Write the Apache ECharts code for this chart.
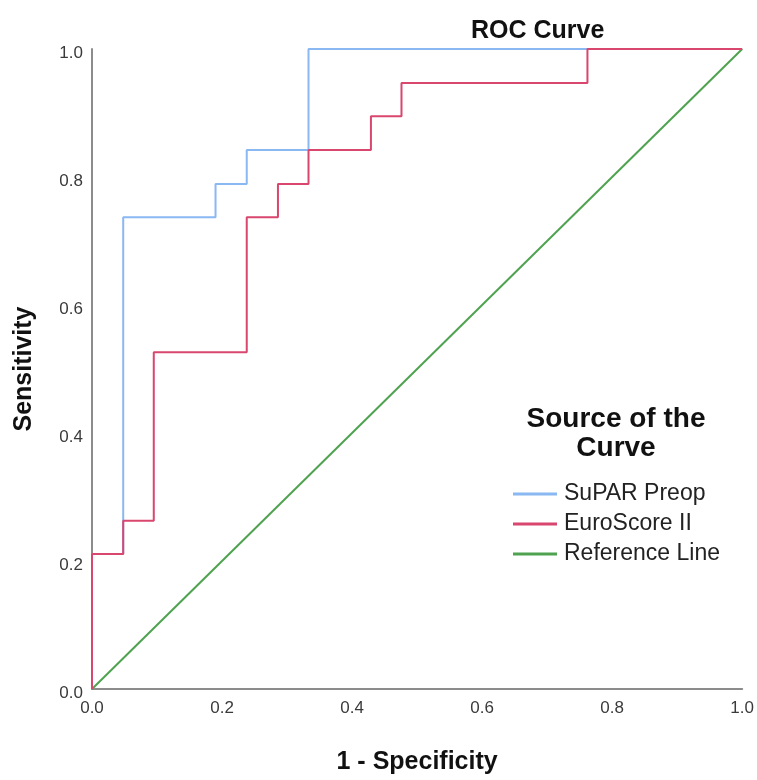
<!DOCTYPE html>
<html>
<head>
<meta charset="utf-8">
<script src="https://cdn.jsdelivr.net/npm/echarts@6/dist/echarts.min.js"></script>
<style>html,body{margin:0;padding:0;background:#fff}#c{width:757px;height:780px}</style>
</head>
<body>
<div id="c"></div>
<script>
// Data (step curves)
const seriesNames = ['SuPAR Preop', 'EuroScore II', 'Reference Line'];
const suparX = [0, 0, 0.048, 0.048, 0.190, 0.190, 0.238, 0.238, 0.333, 0.333, 1.0];
const suparY = [0, 0.211, 0.211, 0.737, 0.737, 0.789, 0.789, 0.842, 0.842, 1.0, 1.0];
const euroX = [0, 0, 0.048, 0.048, 0.095, 0.095, 0.238, 0.238, 0.286, 0.286, 0.333, 0.333, 0.429, 0.429, 0.476, 0.476, 0.762, 0.762, 1.0];
const euroY = [0, 0.211, 0.211, 0.263, 0.263, 0.526, 0.526, 0.737, 0.737, 0.789, 0.789, 0.842, 0.842, 0.895, 0.895, 0.947, 0.947, 1.0, 1.0];
const refX = [0, 1];
const refY = [0, 1];
const tickValues = [0, 0.2, 0.4, 0.6, 0.8, 1.0];

const pairs = (xs, ys) => xs.map((x, i) => [x, ys[i]]);
const colors = ['#8ab8f2', '#d9466e', '#4fa24f'];
const font = 'Liberation Sans, Arial, sans-serif';

const chart = echarts.init(document.getElementById('c'), null, {renderer: 'canvas'});
const axisCommon = {
  type: 'value', min: 0, max: 1, interval: 0.2,
  axisLine: {show: true, lineStyle: {color: '#8c8c8c', width: 2}},
  axisTick: {show: false},
  splitLine: {show: false},
  nameLocation: 'middle',
  nameTextStyle: {fontFamily: font, fontSize: 25, fontWeight: 'bold', color: '#111'}
};
chart.setOption({
  animation: false,
  backgroundColor: '#fff',
  title: [
    {text: 'ROC Curve', left: 466, top: 14,
     textStyle: {fontFamily: font, fontSize: 25, fontWeight: 'bold', color: '#111'}},
    {text: 'Source of the\nCurve', left: 611, top: 400, textAlign: 'center',
     textStyle: {fontFamily: font, fontSize: 28, fontWeight: 'bold', color: '#111', lineHeight: 29}}
  ],
  legend: {
    orient: 'vertical', left: 508, top: 474,
    icon: 'rect', itemWidth: 44, itemHeight: 3, itemGap: 0,
    data: seriesNames,
    textStyle: {fontFamily: font, fontSize: 23, color: '#222', lineHeight: 30, padding: [0, 0, 0, 2]}
  },
  grid: {left: 92, top: 49, right: 14, bottom: 80, containLabel: false},
  xAxis: Object.assign({}, axisCommon, {
    name: '1 - Specificity', nameGap: 61,
    axisLabel: {margin: 11, fontFamily: font, fontSize: 17, color: '#3a3a3a',
      formatter: v => tickValues.includes(Math.round(v*10)/10) ? v.toFixed(1) : ''}
  }),
  yAxis: Object.assign({}, axisCommon, {
    name: 'Sensitivity', nameGap: 55, nameRotate: 90,
    axisLabel: {margin: 9, color: '#3a3a3a',
      formatter: v => '{a|' + v.toFixed(1) + '}',
      rich: {a: {fontFamily: font, fontSize: 17, color: '#3a3a3a', padding: [8, 0, 0, 0]}}}
  }),
  series: [
    {name: seriesNames[0], type: 'line', data: pairs(suparX, suparY), showSymbol: false, symbol: 'none',
     lineStyle: {color: colors[0], width: 2}, itemStyle: {color: colors[0]}, z: 2},
    {name: seriesNames[1], type: 'line', data: pairs(euroX, euroY), showSymbol: false, symbol: 'none',
     lineStyle: {color: colors[1], width: 2}, itemStyle: {color: colors[1]}, z: 3},
    {name: seriesNames[2], type: 'line', data: pairs(refX, refY), showSymbol: false, symbol: 'none',
     lineStyle: {color: colors[2], width: 2}, itemStyle: {color: colors[2]}, z: 2}
  ]
});
</script>
</body>
</html>
